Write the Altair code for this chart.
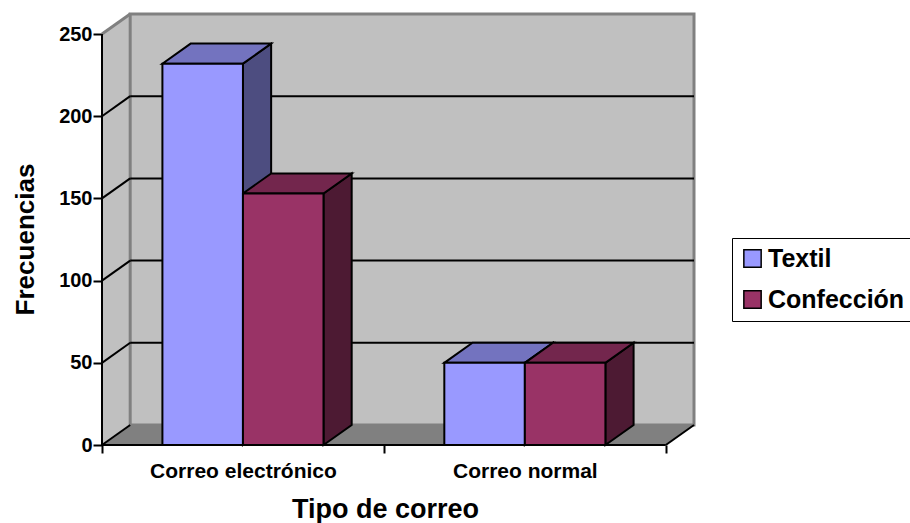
import altair as alt
import pandas as pd

# ---- data -------------------------------------------------------------
categories = ["Correo electrónico", "Correo normal"]
series_names = ["Textil", "Confección"]
textil = [232, 50]
confeccion = [153, 50]
y_ticks = [0, 50, 100, 150, 200, 250]

# ---- style -------------------------------------------------------------
front_colors = ["#9999FF", "#993366"]
top_colors = ["#7373BF", "#73264D"]
side_colors = ["#4D4D80", "#4D1A33"]
WALL = "#C0C0C0"
FLOOR = "#808080"
EDGE = "#808080"
FONT = "Liberation Sans, Arial, sans-serif"

DX = 0.1          # depth offset along x (category units)
DY = 12.2         # depth offset along y (value units)
BW = 1 / 3.5      # bar width for a 150% gap
YMAX = y_ticks[-1]
NCAT = len(categories)

x_scale = alt.Scale(domain=[0, NCAT + DX], nice=False, zero=False)
y_scale = alt.Scale(domain=[0, YMAX + DY], nice=False, zero=False)

label_expr = " : ".join(
    f"datum.value == {i + 0.5} ? '{c}'" for i, c in enumerate(categories)
) + " : ''"
center_test = " || ".join(f"datum.value == {i + 0.5}" for i in range(NCAT))

x_axis = alt.Axis(
    values=[v / 2 for v in range(2 * NCAT + 1)],
    labelExpr=label_expr,
    tickOpacity={"condition": {"test": center_test, "value": 0}, "value": 1},
    domain=False, grid=False,
    tickColor="black", tickWidth=2, tickSize=8,
    labelFont=FONT, labelFontSize=21, labelFontWeight="bold", labelColor="black",
    labelPadding=24, labelBaseline="alphabetic", labelFlush=False,
    labelOverlap=False, labelBound=False, labelLimit=0,
    title="Tipo de correo", titleFont=FONT, titleFontSize=27,
    titleFontWeight="bold", titleColor="black",
    titleX=283, titleY=72, titleAlign="center", titleBaseline="alphabetic",
)
y_axis = alt.Axis(
    values=y_ticks, domain=False, grid=False,
    tickColor="black", tickWidth=2, tickSize=9,
    labelFont=FONT, labelFontSize=20, labelFontWeight="bold", labelColor="black",
    labelPadding=1, labelFlush=False,
    title="Frecuencias", titleFont=FONT, titleFontSize=26,
    titleFontWeight="bold", titleColor="black",
    titleX=-69, titleY=225, titleAngle=270, titleAlign="center",
    titleBaseline="alphabetic",
)


def X(field):
    return alt.X(field, scale=x_scale, axis=x_axis)


def Y(field):
    return alt.Y(field, scale=y_scale, axis=y_axis)


# ---- walls and floor ---------------------------------------------------
side_wall = alt.Chart(pd.DataFrame({
    "x": [0, DX], "ya": [0, DY], "yb": [YMAX, YMAX + DY],
})).mark_area(fill=WALL).encode(x=X("x:Q"), y=Y("ya:Q"), y2="yb:Q")

back_wall = alt.Chart(pd.DataFrame({
    "x": [DX], "x2": [NCAT + DX], "y": [DY], "y2": [YMAX + DY],
})).mark_rect(fill=WALL, stroke=EDGE, strokeWidth=3).encode(
    x=X("x:Q"), x2="x2:Q", y=Y("y:Q"), y2="y2:Q")

floor = alt.Chart(pd.DataFrame({
    "y": [0, DY], "xa": [0, DX], "xb": [NCAT, NCAT + DX],
})).mark_area(orient="horizontal", fill=FLOOR).encode(
    y=Y("y:Q"), x=X("xa:Q"), x2="xb:Q")

back_grid = alt.Chart(pd.DataFrame({
    "x": DX, "x2": NCAT + DX, "y": [v + DY for v in y_ticks[1:-1]],
})).mark_rule(color="black", strokeWidth=2).encode(
    x=X("x:Q"), x2="x2:Q", y=Y("y:Q"))

side_grid = alt.Chart(pd.DataFrame({
    "x": 0.0, "x2": DX, "y": y_ticks[:-1], "y2": [v + DY for v in y_ticks[:-1]],
})).mark_rule(color="black", strokeWidth=2).encode(
    x=X("x:Q"), x2="x2:Q", y=Y("y:Q"), y2="y2:Q")

side_top = alt.Chart(pd.DataFrame({
    "x": [0.0], "x2": [DX], "y": [YMAX], "y2": [YMAX + DY],
})).mark_rule(color=EDGE, strokeWidth=3).encode(
    x=X("x:Q"), x2="x2:Q", y=Y("y:Q"), y2="y2:Q")

floor_edge = alt.Chart(pd.DataFrame({
    "x": [float(NCAT)], "x2": [NCAT + DX], "y": [0.0], "y2": [DY],
})).mark_rule(color="black", strokeWidth=2).encode(
    x=X("x:Q"), x2="x2:Q", y=Y("y:Q"), y2="y2:Q")

# ---- bars (front, top and side faces) ----------------------------------
fronts, tops, sides = [], [], []
for c, cat in enumerate(categories):
    for s, (name, vals) in enumerate(zip(series_names, [textil, confeccion])):
        v = vals[c]
        x0 = c + 0.5 + (s - 1) * BW
        x1 = x0 + BW
        bar = f"{cat}-{name}"
        fronts.append({"bar": bar, "series": name, "x0": x0, "x1": x1, "v": v})
        tops.append({"bar": bar, "fill": top_colors[s], "y": v, "xa": x0, "xb": x1})
        tops.append({"bar": bar, "fill": top_colors[s], "y": v + DY,
                     "xa": x0 + DX, "xb": x1 + DX})
        sides.append({"bar": bar, "fill": side_colors[s], "x": x1, "ya": 0, "yb": v})
        sides.append({"bar": bar, "fill": side_colors[s], "x": x1 + DX,
                      "ya": DY, "yb": v + DY})

bar_sides = alt.Chart(pd.DataFrame(sides)).mark_area(
    stroke="black", strokeWidth=2, strokeJoin="miter").encode(
    x=X("x:Q"), y=Y("ya:Q"), y2="yb:Q",
    fill=alt.Fill("fill:N", scale=None), detail="bar:N")

bar_tops = alt.Chart(pd.DataFrame(tops)).mark_area(
    orient="horizontal", stroke="black", strokeWidth=2, strokeJoin="miter").encode(
    y=Y("y:Q"), x=X("xa:Q"), x2="xb:Q",
    fill=alt.Fill("fill:N", scale=None), detail="bar:N")

bar_fronts = alt.Chart(pd.DataFrame(fronts)).mark_rect(
    stroke="black", strokeWidth=2, strokeJoin="miter").encode(
    x=X("x0:Q"), x2="x1:Q", y=Y("v:Q"), y2=alt.datum(0),
    color=alt.Color(
        "series:N", sort=series_names,
        scale=alt.Scale(domain=series_names, range=front_colors),
        legend=alt.Legend(
            orient="none", legendX=630, legendY=224, title=None,
            symbolType="square", symbolSize=300,
            symbolStrokeColor="black", symbolStrokeWidth=1.5,
            labelFont=FONT, labelFontSize=25, labelFontWeight="bold",
            labelColor="black", labelOffset=3, labelLimit=0,
            strokeColor="black", fillColor="white", padding=8, rowPadding=15,
        ),
    ),
)

# ---- axis lines ----------------------------------------------------------
y_line = alt.Chart(pd.DataFrame({"x": [0.0], "y": [0.0], "y2": [float(YMAX)]})).mark_rule(
    color="black", strokeWidth=2).encode(x=X("x:Q"), y=Y("y:Q"), y2="y2:Q")
x_line = alt.Chart(pd.DataFrame({"x": [0.0], "x2": [float(NCAT)], "y": [0.0]})).mark_rule(
    color="black", strokeWidth=2).encode(x=X("x:Q"), x2="x2:Q", y=Y("y:Q"))

chart = alt.layer(
    side_wall, back_wall, floor, back_grid, side_grid, side_top, floor_edge,
    bar_sides, bar_tops, bar_fronts, y_line, x_line,
).properties(
    width=592, height=431,
    padding={"left": 102, "top": 14, "right": 216, "bottom": 78},
    autosize="none", background="white",
).configure_view(strokeWidth=0)

chart.save("out.html", embed_options={"renderer": "svg", "actions": False})
